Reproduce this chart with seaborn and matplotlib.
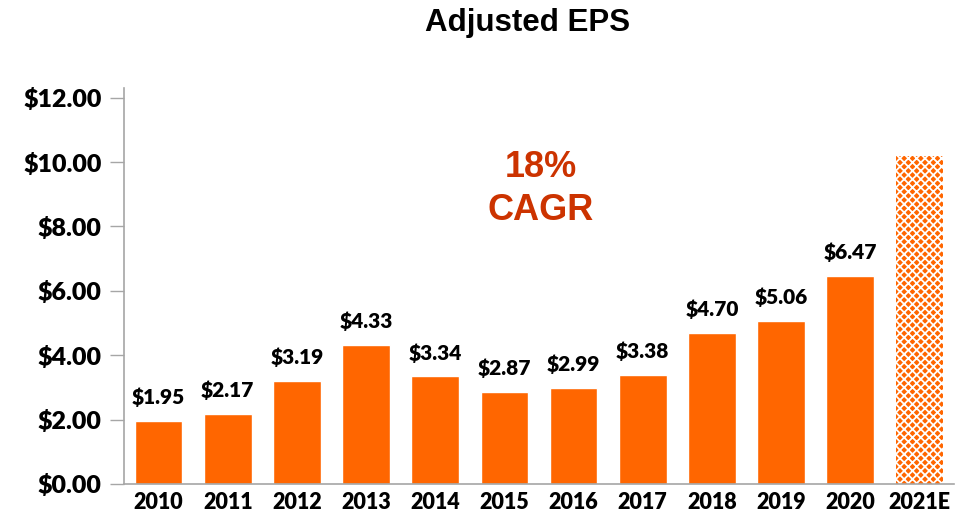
import matplotlib
matplotlib.use("Agg")
import matplotlib.pyplot as plt
import seaborn as sns
import pandas as pd

# Adjusted EPS by year (actuals) plus the 2021 estimate
years = ["2010", "2011", "2012", "2013", "2014", "2015", "2016",
         "2017", "2018", "2019", "2020", "2021E"]
eps = [1.95, 2.17, 3.19, 4.33, 3.34, 2.87, 2.99, 3.38, 4.70, 5.06, 6.47, 10.20]
labelled = [True] * 11 + [False]
y_ticks = [0, 2, 4, 6, 8, 10, 12]

ORANGE = "#FF6600"
GRAY = "#A6A6A6"

sns.set_theme(style="white")
plt.rcParams["hatch.color"] = "white"
plt.rcParams["hatch.linewidth"] = 1.3
plt.rcParams["text.color"] = "black"
plt.rcParams["xtick.color"] = "black"
plt.rcParams["ytick.color"] = "black"

df = pd.DataFrame({"year": years, "eps": eps})

fig = plt.figure(figsize=(9.62, 5.16), dpi=100)
ax = fig.add_axes([124 / 962, 1 - 484 / 516, (954 - 124) / 962, (484 - 88) / 516])

sns.barplot(data=df, x="year", y="eps", color=ORANGE, saturation=1,
            width=0.69, ax=ax, order=years)

# estimate bar drawn with a checkered fill
est = ax.patches[-1]
est.set_hatch("xxxx")
est.set_edgecolor("white")
est.set_linewidth(0)

for patch, val, show in zip(ax.patches, eps, labelled):
    if show:
        ax.annotate(f"${val:.2f}", (patch.get_x() + patch.get_width() / 2, val),
                    xytext=(0, 10), textcoords="offset points",
                    ha="center", va="bottom", fontsize=15, fontweight="heavy",
                    family="Lato", color="black")

ax.set_ylim(0, 12.3)
ax.set_xlim(-0.5, len(years) - 0.5)
ax.set_yticks(y_ticks)
ax.set_yticklabels([f"${t:.2f}" for t in y_ticks], fontsize=18,
                   fontweight="heavy", family="Lato", color="black")
ax.set_xticks(range(len(years)))
ax.set_xticklabels(years, fontsize=15.5, fontweight="heavy", family="Lato",
                   color="black")
ax.set_xticks([i - 0.5 for i in range(len(years) + 1)], minor=True)
ax.tick_params(axis="x", which="major", length=0, pad=6)
ax.tick_params(axis="x", which="minor", length=6, width=1, color=GRAY, direction="out")
ax.tick_params(axis="y", length=10, width=1, color=GRAY, direction="out", pad=6, left=True)
ax.set_xlabel("")
ax.set_ylabel("")

for side in ["top", "right"]:
    ax.spines[side].set_visible(False)
for side in ["left", "bottom"]:
    ax.spines[side].set_color(GRAY)
    ax.spines[side].set_linewidth(1.2)

fig.text(528 / 962, 1 - 23 / 516, "Adjusted EPS", ha="center", va="center",
         fontsize=22.5, fontweight="bold", family="Liberation Sans", color="black")
ax.text(5.52, 9.15, "18%\nCAGR", ha="center", va="center", fontsize=26,
        fontweight="bold", family="Liberation Sans", color="#CC3300",
        linespacing=1.3)

fig.savefig("out.png", dpi=100)
